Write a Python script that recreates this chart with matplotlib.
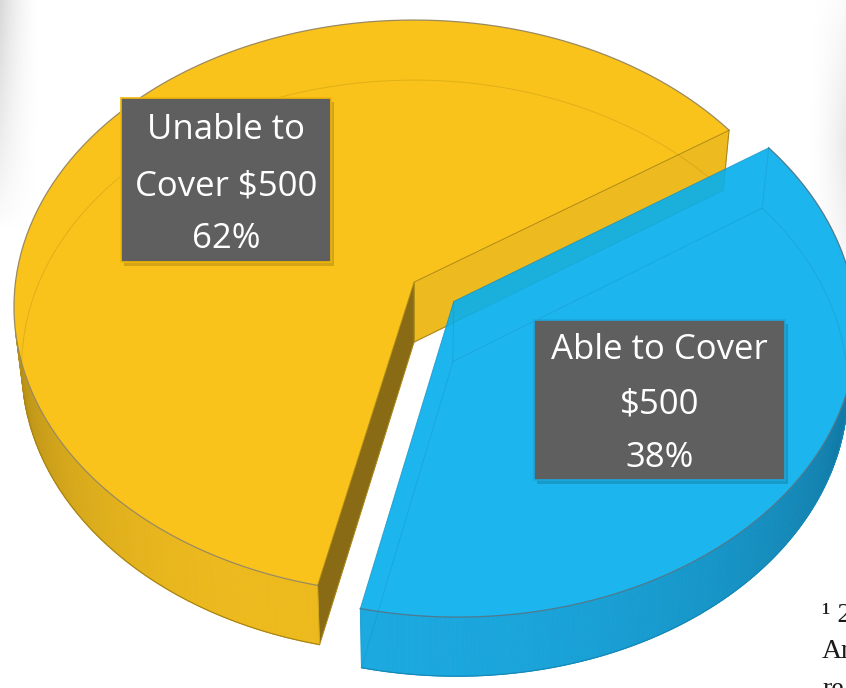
import numpy as np
import matplotlib
matplotlib.use("Agg")
import matplotlib.pyplot as plt
from matplotlib.patches import Polygon, Rectangle
from matplotlib.colors import to_rgb

# ---------------- data ----------------
categories = ["Unable to Cover $500", "Able to Cover $500"]
shares = [62, 38]
label_lines = [["Unable to", "Cover $500", "62%"], ["Able to Cover", "$500", "38%"]]
explode = [0.0, 0.12]
top_colors = ["#F9C31B", "#09AFEC"]
top_alpha = [1.0, 0.92]
side_light = ["#EDBA1E", "#1BA9E0"]
side_dark = ["#7E620E", "#117AA6"]
cut_colors = {"start": ["#EDBA1F", "#1BA6DA"], "end": ["#8A6B15", "#1690C2"]}
edge_colors = ["#A88414", "#1488B8"]
rim_colors = ["#9A8A60", "#4F7A8E"]
footnote = ["\u00b9 2", "Ar", "re"]

# ---------------- projection ----------------
W, Hpx = 846, 688
elev = np.radians(45.6)
D = 8.05
S = 3208.0
CX, CY = 414.0, 282.0
THICK = 0.22
START = 34.0
LIGHT = np.radians(252.0)
ce, se = np.cos(elev), np.sin(elev)
CAM = np.array([0.0, -D * ce, D * se])


def proj(x, y, z):
    x = np.asarray(x, float); y = np.asarray(y, float); z = np.asarray(z, float)
    qy = y + D * ce
    qz = z - D * se
    depth = qy * ce - qz * se
    up = qy * se + qz * ce
    return CX + S * x / depth, CY - S * up / depth


fig = plt.figure(figsize=(W / 100, Hpx / 100), dpi=100)
ax = fig.add_axes([0, 0, 1, 1])

# slide shadow decorations at the edges
gy, gx = np.mgrid[0:1:200j, 0:1:60j]
alpha_l = (1 - gx) ** 1.8 * np.clip(1 - gy, 0, 1) ** 0.8 * 0.34
img = np.zeros((200, 60, 4)); img[..., :3] = 0.55; img[..., 3] = alpha_l
ax.imshow(img, extent=[0, 42, 230, 0], aspect="auto", zorder=0, interpolation="bilinear")
alpha_r = gx ** 1.8 * np.clip(1 - np.abs(gy - 0.4) * 2.2, 0, 1) ** 0.8 * 0.2
img2 = np.zeros((200, 60, 4)); img2[..., :3] = 0.55; img2[..., 3] = alpha_r
ax.imshow(img2, extent=[806, 846, 360, 0], aspect="auto", zorder=0, interpolation="bilinear")
ax.set_xlim(0, W)
ax.set_ylim(Hpx, 0)
ax.axis("off")


def poly(xs, ys, fc, ec="none", lw=0.0, alpha=1.0, z=2):
    p = Polygon(np.column_stack([xs, ys]), closed=True, facecolor=fc, edgecolor=ec,
                linewidth=lw, alpha=alpha, zorder=z, joinstyle="round")
    ax.add_patch(p)


def visible(normal, point):
    return np.dot(normal, CAM - point) > 0


cum = START
for i, share in enumerate(shares):
    a0 = np.radians(cum)
    a1 = np.radians(cum + 360.0 * share / 100.0)
    cum += 360.0 * share / 100.0
    mid = 0.5 * (a0 + a1)
    ox, oy = explode[i] * np.cos(mid), explode[i] * np.sin(mid)
    th = np.linspace(a0, a1, 240)
    rx, ry = ox + np.cos(th), oy + np.sin(th)
    z0 = 2 + i * 3

    # cut faces
    for key, a, sign in (("start", a0, -1), ("end", a1, 1)):
        n = np.array([-sign * np.sin(a), sign * np.cos(a), 0.0])
        px = ox + 0.5 * np.cos(a); py = oy + 0.5 * np.sin(a)
        if visible(n, np.array([px, py, -THICK / 2])):
            X = [ox, ox + np.cos(a), ox + np.cos(a), ox]
            Y = [oy, oy + np.sin(a), oy + np.sin(a), oy]
            Z = [0, 0, -THICK, -THICK]
            u, v = proj(X, Y, Z)
            poly(u, v, cut_colors[key][i], edge_colors[i], 0.7, 1.0, z0)

    # outer side, shaded strips
    lt = np.array(to_rgb(side_light[i])); dk = np.array(to_rgb(side_dark[i]))
    for k in range(len(th) - 1):
        tm = 0.5 * (th[k] + th[k + 1])
        n = np.array([np.cos(tm), np.sin(tm), 0.0])
        if not visible(n, np.array([ox + np.cos(tm), oy + np.sin(tm), 0.0])):
            continue
        t = max(0.0, np.cos(tm - LIGHT))
        col = dk + (lt - dk) * t
        X = [rx[k], rx[k + 1], rx[k + 1], rx[k]]
        Y = [ry[k], ry[k + 1], ry[k + 1], ry[k]]
        Z = [0, 0, -THICK, -THICK]
        u, v = proj(X, Y, Z)
        poly(u, v, col, col, 0.6, 1.0, z0)
    # visible bottom rim line
    vis = np.array([visible(np.array([np.cos(a), np.sin(a), 0]),
                            np.array([ox + np.cos(a), oy + np.sin(a), 0])) for a in th])
    bu, bv = proj(rx, ry, np.full_like(rx, -THICK))
    ax.plot(np.where(vis, bu, np.nan), np.where(vis, bv, np.nan), color=edge_colors[i],
            lw=0.8, zorder=z0 + 0.5)

    # top face
    u, v = proj(np.r_[ox, rx], np.r_[oy, ry], np.zeros(len(rx) + 1))
    poly(u, v, top_colors[i], "none", 0, top_alpha[i], z0 + 1)
    ax.plot(u[1:], v[1:], color=rim_colors[i], lw=0.9, zorder=z0 + 1.2)
    ax.plot([u[1], u[0], u[-1]], [v[1], v[0], v[-1]], color=edge_colors[i], lw=0.6,
            alpha=0.7, zorder=z0 + 1.2)

    # faint hidden edges (transparent look)
    hu, hv = proj(np.r_[ox, rx, ox], np.r_[oy, ry, oy], np.full(len(rx) + 2, -THICK))
    ax.plot(hu, hv, color=edge_colors[i], lw=0.7, alpha=0.3, zorder=z0 + 1.5)
    for (xx, yy) in ((ox, oy), (rx[0], ry[0]), (rx[-1], ry[-1])):
        vu, vv = proj([xx, xx], [yy, yy], [0, -THICK])
        ax.plot(vu, vv, color=edge_colors[i], lw=0.7, alpha=0.3, zorder=z0 + 1.5)

# ---------------- labels ----------------
boxes = [(121, 98, 210, 164), (534, 320, 251, 160)]
line_y = [[130, 186, 239], [350, 405, 458]]
box_edges = ["#F2B705", "#19A8DE"]
for i, (bx, by, bw, bh) in enumerate(boxes):
    ax.add_patch(Rectangle((bx + 3, by + 4), bw, bh, facecolor="#000000", alpha=0.15,
                           edgecolor="none", zorder=20))
    ax.add_patch(Rectangle((bx, by), bw, bh, facecolor="#5F5F5F", edgecolor=box_edges[i],
                           linewidth=1.2, zorder=21))
    for txt, yy in zip(label_lines[i], line_y[i]):
        ax.text(bx + bw / 2, yy, txt, ha="center", va="center", color="white",
                fontsize=25, family=["Open Sans", "DejaVu Sans"], zorder=22)

# footnote fragment at the right edge (cut off by the slide edge, as in the source)
fn_y = [615, 652, 690]
for txt, yy in zip(footnote, fn_y):
    ax.text(822, yy, txt, ha="left", va="center", color="#1a1a1a", fontsize=20,
            family=["Liberation Serif", "DejaVu Serif"], zorder=22)

fig.savefig("out.png", dpi=100, facecolor="white")
